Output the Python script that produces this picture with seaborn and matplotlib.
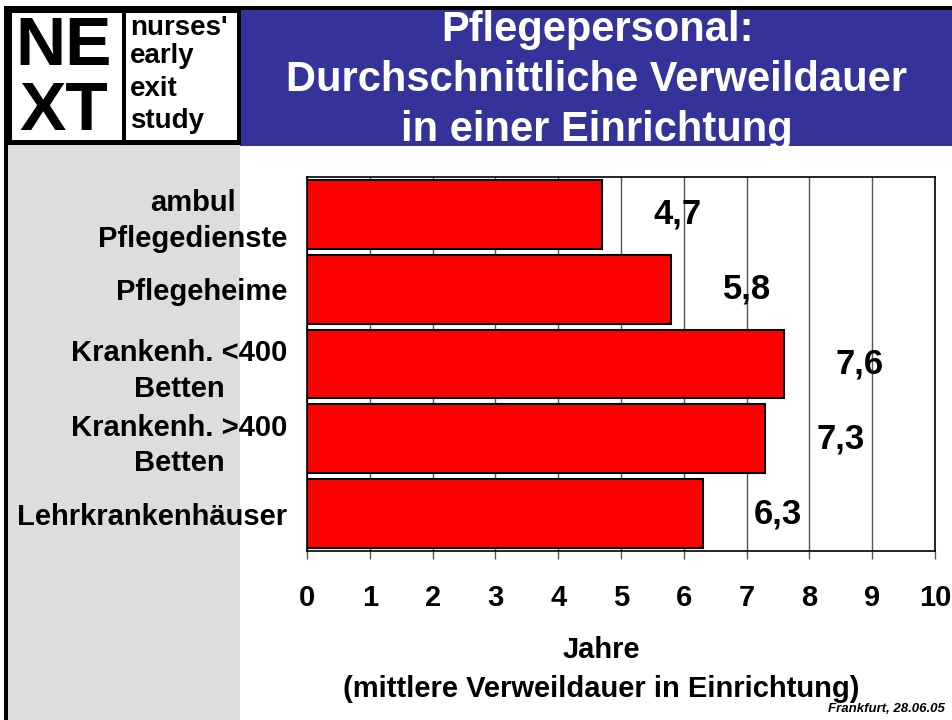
import matplotlib
matplotlib.use('Agg')
import matplotlib.pyplot as plt
import seaborn as sns
import pandas as pd
from matplotlib.patches import Rectangle

# 1. DATOS
categorias = ['ambul\nPflegedienste', 'Pflegeheime', 'Krankenh. <400\nBetten',
              'Krankenh. >400\nBetten', 'Lehrkrankenhäuser']
jahre = [4.7, 5.8, 7.6, 7.3, 6.3]
x_ticks = list(range(0, 11))

titulo = 'Pflegepersonal:\nDurchschnittliche Verweildauer\nin einer Einrichtung'
xlabel = 'Jahre\n(mittlere Verweildauer in Einrichtung)'
logo_grande = ['NE', 'XT']
logo_palabras = ["nurses'", 'early', 'exit', 'study']
pie = 'Frankfurt, 28.06.05'

df = pd.DataFrame({'Einrichtung': categorias, 'Jahre': jahre})

# 2. ESTILO
sns.set_theme(style='white')
plt.rcParams['font.family'] = ['Liberation Sans', 'DejaVu Sans']
plt.rcParams['text.color'] = 'black'
plt.rcParams['axes.labelcolor'] = 'black'

W, H = 952, 720
fig = plt.figure(figsize=(W / 100, H / 100), dpi=100)
fig.patch.set_facecolor('white')


def rect(x1, y1, x2, y2, color):
	# coordenadas en pixeles (y hacia abajo)
	fig.add_artist(Rectangle((x1 / W, 1 - y2 / H), (x2 - x1) / W, (y2 - y1) / H,
	                         transform=fig.transFigure, facecolor=color,
	                         edgecolor='none', zorder=0))


# fondo: cabecera azul, panel gris, logo
rect(4, 6, W, 10, 'black')
rect(4, 6, 8, H, 'black')
rect(240, 10, W, 146, '#333399')
rect(8, 145, 240, H, '#dddddd')
rect(8, 10, 241, 145, 'black')
rect(12, 13, 122, 140, 'white')
rect(126, 13, 237, 140, 'white')

fig.text(64 / W, 1 - 65 / H, logo_grande[0], ha='center', va='baseline',
         fontsize=50, fontweight='bold', color='black')
fig.text(64 / W, 1 - 130 / H, logo_grande[1], ha='center', va='baseline',
         fontsize=50, fontweight='bold', color='black')
for palabra, base in zip(logo_palabras, [35, 63, 96, 128]):
	fig.text(130 / W, 1 - base / H, palabra, ha='left', va='baseline',
	         fontsize=20, fontweight='bold', color='black')

fig.text(597 / W, 1 - 80 / H, titulo, ha='center', va='center', color='white',
         fontsize=30, fontweight='bold', linespacing=1.33)

# 3. GRAFICO DE BARRAS
ax = fig.add_axes([307 / W, 1 - 551 / H, (935 - 307) / W, (551 - 177) / H])
sns.barplot(data=df, x='Jahre', y='Einrichtung', orient='h', color='#ff0000',
            saturation=1, edgecolor='black', linewidth=1.5, width=0.92, ax=ax)

ax.set_xlim(0, 10)
ax.set_xticks(x_ticks, labels=[str(t) for t in x_ticks], fontweight='bold', fontsize=21)
ax.set_yticks(range(len(categorias)), labels=categorias, fontweight='bold', fontsize=21)
for lbl in ax.get_yticklabels():
	lbl.set_multialignment('center')
	lbl.set_linespacing(1.35)

ax.grid(axis='x', color='#555555', linewidth=1)
ax.grid(axis='y', visible=False)
ax.set_axisbelow(True)
for s in ax.spines.values():
	s.set_visible(True)
	s.set_color('black')
	s.set_linewidth(1.2)

ax.tick_params(axis='x', bottom=True, direction='out', length=6, width=1,
               color='#555555', labelcolor='black', pad=18)
ax.tick_params(axis='y', left=False, length=0, pad=14, labelcolor='black')

for i, v in enumerate(jahre):
	ax.annotate(f'{v:.1f}'.replace('.', ','), xy=(v, i), xytext=(37, 0),
	            textcoords='offset points', ha='left', va='center',
	            fontsize=25, fontweight='bold', color='black')

ax.set_ylabel('')
ax.set_xlabel(xlabel, fontsize=21, fontweight='bold', linespacing=1.5, color='black')
ax.xaxis.set_label_coords((601 - 307) / 628, (551 - 636) / 374)

fig.text(945 / W, 1 - 712 / H, pie, ha='right', va='baseline', fontsize=9.5,
         fontweight='bold', style='italic')

plt.savefig('out.png', dpi=100)
plt.close()
